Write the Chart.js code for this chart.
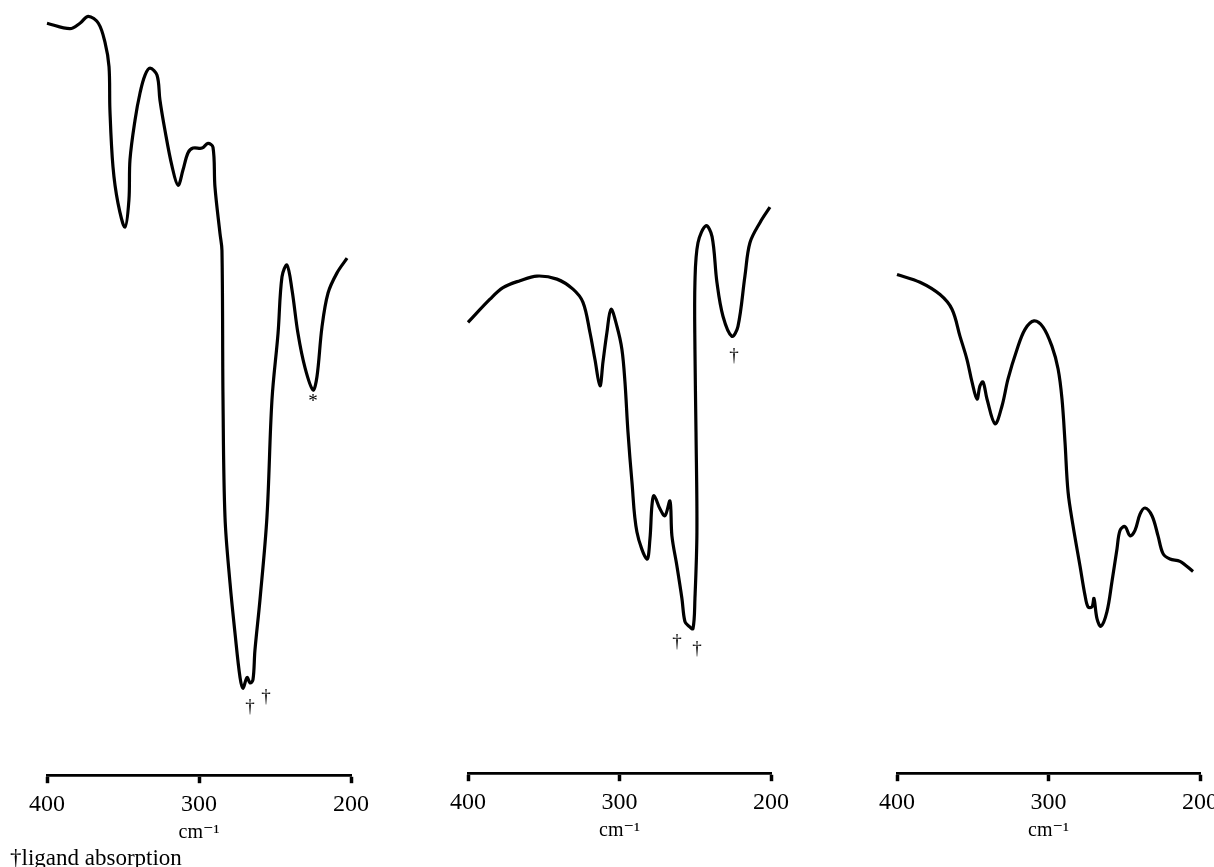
<!DOCTYPE html>
<html>
<head>
<meta charset="utf-8">
<script src="https://cdn.jsdelivr.net/npm/chart.js@4.4.1/dist/chart.umd.min.js"></script>
<style>
    html, body { margin: 0; padding: 0; background: #fff; overflow: hidden; width: 1214px; height: 867px; }
    canvas { position: absolute; top: 0; }
    #note { position: absolute; left: 10px; top: 846px; font-family: "Liberation Serif", serif; font-size: 23px; line-height: 1; color: #000; }
</style>
</head>
<body>
<canvas id="spec1" width="364" height="867" style="left:17px"></canvas>
<canvas id="spec2" width="363" height="867" style="left:438px"></canvas>
<canvas id="spec3" width="363" height="867" style="left:867px"></canvas>
<div id="note">†ligand absorption</div>
<script>
// wavenumbers (cm-1) and transmission (arbitrary %)
const wn1 = [400, 384.9, 378.3, 372.8, 366.2, 361.8, 359.2, 358.6, 356.6, 353.3, 348.7, 346.1, 345.4, 342.1, 338.8, 335.5, 332.2, 327.6, 325.7, 322.4, 317.8, 313.8, 310.5, 307.2, 303.9, 298.0, 294.1, 290.8, 289.5, 286.2, 284.9, 284.2, 282.9, 279.6, 276.3, 273.0, 271.1, 268.4, 266.4, 264.5, 263.2, 259.9, 255.3, 252.0, 248.0, 245.4, 242.1, 238.8, 234.9, 230.3, 225.0, 222.4, 219.1, 215.1, 209.2, 202.6];
const t1 = [97.0, 96.3, 97.0, 97.9, 97.0, 94.5, 91.4, 85.8, 78.5, 73.8, 70.7, 74.2, 79.4, 84.5, 88.0, 90.3, 91.2, 90.3, 87.1, 83.2, 78.6, 76.1, 78.1, 80.3, 80.9, 80.9, 81.5, 81.0, 75.9, 69.9, 67.7, 48.4, 33.3, 24.8, 18.3, 12.6, 11.2, 12.6, 11.9, 12.3, 16.1, 22.6, 33.3, 48.4, 57.0, 64.3, 65.8, 62.6, 57.0, 52.6, 49.7, 51.4, 57.8, 62.2, 64.8, 66.7];

const wn2 = [400, 385.5, 376.9, 365.7, 354.5, 341.3, 330.7, 324.1, 319.5, 316.2, 312.9, 310.9, 308.3, 305.6, 301.7, 298.4, 296.4, 294.4, 291.8, 288.5, 281.9, 279.9, 278.6, 277.2, 273.3, 270.0, 266.7, 265.4, 262.1, 258.8, 256.8, 254.1, 251.5, 250.2, 248.9, 249.5, 250.2, 250.2, 248.2, 242.9, 238.9, 235.7, 231.7, 225.8, 221.8, 217.2, 213.9, 207.3, 200.7];
const t2 = [58.3, 61.3, 62.8, 63.7, 64.3, 63.9, 62.6, 60.9, 57.0, 53.5, 50.1, 53.2, 57.0, 60.0, 57.8, 54.8, 50.6, 44.1, 37.7, 31.2, 27.7, 30.3, 34.6, 35.9, 34.2, 33.3, 35.2, 30.7, 26.8, 22.6, 19.6, 19.0, 18.7, 22.6, 31.2, 44.1, 54.8, 63.5, 68.6, 70.8, 69.4, 63.5, 59.1, 56.5, 57.8, 64.3, 68.6, 71.2, 73.2];

const wn3 = [400, 384.8, 371.6, 363.7, 358.4, 353.8, 350.5, 347.2, 345.2, 343.2, 340.6, 335.3, 330.7, 326.7, 320.8, 315.5, 309.6, 303.6, 297.7, 293.7, 291.1, 289.1, 287.1, 283.8, 279.2, 275.9, 273.9, 271.3, 270.0, 268.0, 265.4, 261.4, 258.1, 254.8, 252.8, 249.5, 246.2, 242.9, 239.6, 236.3, 231.7, 227.7, 224.4, 219.8, 213.2, 204.6];
const t3 = [64.5, 63.5, 61.9, 60.0, 56.5, 53.5, 50.6, 48.4, 50.1, 50.6, 48.4, 45.2, 47.5, 51.0, 54.8, 57.4, 58.5, 57.7, 55.2, 52.3, 48.4, 42.8, 36.4, 32.0, 26.8, 23.0, 21.5, 21.5, 22.6, 20.0, 19.0, 20.9, 24.8, 29.0, 31.4, 31.9, 30.7, 31.4, 33.5, 34.3, 33.3, 30.7, 28.4, 27.7, 27.4, 26.1];

const tickValues = [400, 300, 200];

// band labels under the peaks
const markWn1 = [225.0, 266.4, 255.9];
const markT1 = [48.1, 8.8, 10.1];
const markTxt1 = ['*', '†', '†'];
const markWn2 = [262.1, 248.9, 224.4];
const markT2 = [17.0, 16.0, 53.9];
const markTxt2 = ['†', '†', '†'];

const serif = '"Liberation Serif", "DejaVu Serif", serif';

// draws the * and † signs at data positions
const markPlugin = {
    id: 'marks',
    afterDatasetsDraw(chart, args, opts) {
        if (!opts.wn) return;
        const ctx = chart.ctx;
        ctx.save();
        ctx.fillStyle = '#000';
        ctx.font = '19px ' + serif;
        ctx.textAlign = 'center';
        ctx.textBaseline = 'middle';
        opts.wn.forEach((w, i) => {
            const x = chart.scales.x.getPixelForValue(w);
            const y = chart.scales.y.getPixelForValue(opts.t[i]);
            ctx.fillText(opts.txt[i], x, y);
        });
        ctx.restore();
    }
};

function makeSpectrum(id, wn, t, marks, padBottom) {
    const pts = wn.map((w, i) => ({ x: w, y: t[i] }));

    return new Chart(document.getElementById(id), {
        type: 'line',
        data: {
            datasets: [{
                data: pts,
                borderColor: '#000',
                borderWidth: 3.2,
                pointRadius: 0,
                tension: 0.35,
                fill: false,
                clip: false
            }]
        },
        options: {
            responsive: false,
            animation: false,
            layout: { padding: { left: 30, right: 30, top: 0, bottom: padBottom } },
            scales: {
                x: {
                    type: 'linear',
                    min: 200,
                    max: 400,
                    reverse: true,
                    afterBuildTicks: (scale) => {
                        scale.ticks = tickValues.map(v => ({ value: v }));
                    },
                    ticks: {
                        color: '#000',
                        padding: 7,
                        font: { family: serif, size: 24 }
                    },
                    grid: {
                        drawOnChartArea: false,
                        drawTicks: true,
                        tickLength: 8,
                        tickWidth: 3.5,
                        color: '#000'
                    },
                    border: { display: true, color: '#000', width: 2.8 },
                    title: {
                        display: true,
                        text: 'cm⁻¹',
                        color: '#000',
                        padding: { top: -5, bottom: 0 },
                        font: { family: serif, size: 20 }
                    }
                },
                y: { display: false, min: 0, max: 100 }
            },
            plugins: {
                legend: { display: false },
                tooltip: { enabled: false },
                marks: marks
            }
        },
        plugins: [markPlugin]
    });
}

makeSpectrum('spec1', wn1, t1, { wn: markWn1, t: markT1, txt: markTxt1 }, 22);
makeSpectrum('spec2', wn2, t2, { wn: markWn2, t: markT2, txt: markTxt2 }, 24);
makeSpectrum('spec3', wn3, t3, {}, 24);
</script>
</body>
</html>
